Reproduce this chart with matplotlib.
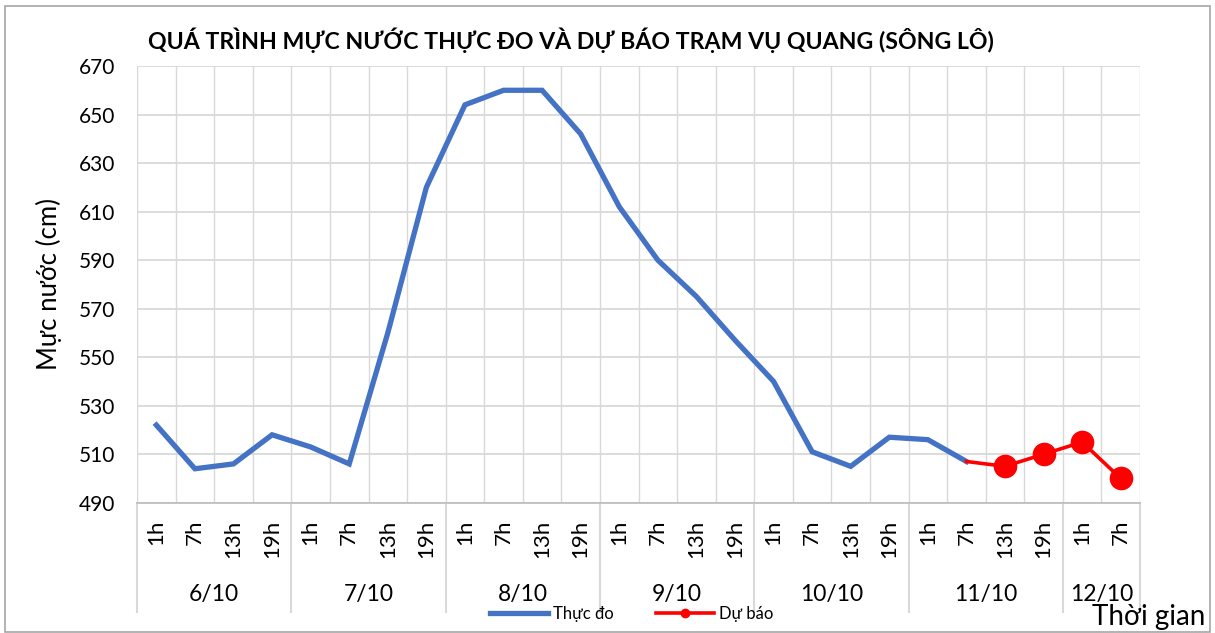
import matplotlib
matplotlib.use('Agg')
import matplotlib.pyplot as plt
import matplotlib.transforms as mtrans
from matplotlib.lines import Line2D
from matplotlib.patches import Rectangle
import numpy as np

plt.rcParams['font.family'] = ['Lato', 'Noto Sans', 'DejaVu Sans']

# data
days = ['6/10', '7/10', '8/10', '9/10', '10/10', '11/10', '12/10']
day_counts = [4, 4, 4, 4, 4, 4, 2]
hours = ['1h', '7h', '13h', '19h']
observed = [522, 504, 506, 518,
            513, 506, 560, 620,
            654, 660, 660, 642,
            612, 590, 575, 557,
            540, 511, 505, 517,
            516, 507]
forecast = [507, 505, 510, 515, 500]   # starts at 11/10 7h
yticks = [490, 510, 530, 550, 570, 590, 610, 630, 650, 670]

labels = []
for n in day_counts:
    labels += hours[:n]
n_cat = len(labels)
x = np.arange(n_cat) + 0.5
x_obs = x[:len(observed)]
x_fc = x[len(observed) - 1:len(observed) - 1 + len(forecast)]

blue = '#4472C4'
red = '#FF0000'
grid = '#D9D9D9'

fig = plt.figure(figsize=(12.15, 6.33), dpi=100)
ax = fig.add_axes([0.1128, 0.2058, 0.8255, 0.6899])

ax.plot(x_obs, observed, color=blue, lw=3.8, solid_joinstyle='miter', zorder=3)
ax.plot(x_fc, forecast, color=red, lw=2.6, marker='o', markersize=16,
        markevery=list(range(1, len(forecast))), zorder=4)

ax.set_xlim(0, n_cat)
ax.set_ylim(490, 670)
ax.set_yticks(yticks)
ax.set_xticks(x)
ax.set_xticklabels(labels, rotation=90, fontsize=16)
ax.set_xticks(np.arange(0, n_cat + 0.5, 0.5), minor=True)
ax.tick_params(axis='x', which='both', length=0, pad=12)
ax.tick_params(axis='y', length=0, pad=16, labelsize=15)
ax.grid(axis='x', which='minor', color=grid, lw=1)
ax.grid(axis='y', which='major', color=grid, lw=1.3)
for s in ['left', 'top', 'right']:
    ax.spines[s].set_visible(False)
ax.spines['bottom'].set_color('#BFBFBF')
ax.spines['bottom'].set_linewidth(1.3)

ax.set_ylabel('Mực nước (cm)', fontsize=18.5, labelpad=12)

# two-level category axis: day separators and day labels
tr = mtrans.blended_transform_factory(ax.transData, ax.transAxes)
bounds = np.concatenate([[0], np.cumsum(day_counts)])
for b in bounds:
    ax.plot([b, b], [0, -0.25], transform=tr, color=grid, lw=1.5, clip_on=False)
for d, a, b in zip(days, bounds[:-1], bounds[1:]):
    ax.text((a + b) / 2, -0.211, d, transform=tr, ha='center', va='center', fontsize=16.5)

fig.text(0.470, 0.937, 'QUÁ TRÌNH MỰC NƯỚC THỰC ĐO VÀ DỰ BÁO TRẠM VỤ QUANG (SÔNG LÔ)',
         ha='center', va='center', fontsize=16.7, fontweight='bold')
fig.text(0.992, 0.025, 'Thời gian', ha='right', va='center', fontsize=20)

handles = [Line2D([], [], color=blue, lw=3.8),
           Line2D([], [], color=red, lw=2.6, marker='o', markersize=6)]
fig.legend(handles, ['Thực đo', 'Dự báo'], loc='center', bbox_to_anchor=(0.52, 0.03),
           ncol=2, frameon=False, fontsize=12, handlelength=3.5, columnspacing=2.5,
           handletextpad=0.3)

fig.patches.append(Rectangle((5 / 1215, 1 - 632 / 633), 1205 / 1215, 626 / 633,
                             transform=fig.transFigure, fill=False, ec='#A6A6A6', lw=1.2))

fig.savefig('out.png', dpi=100)
